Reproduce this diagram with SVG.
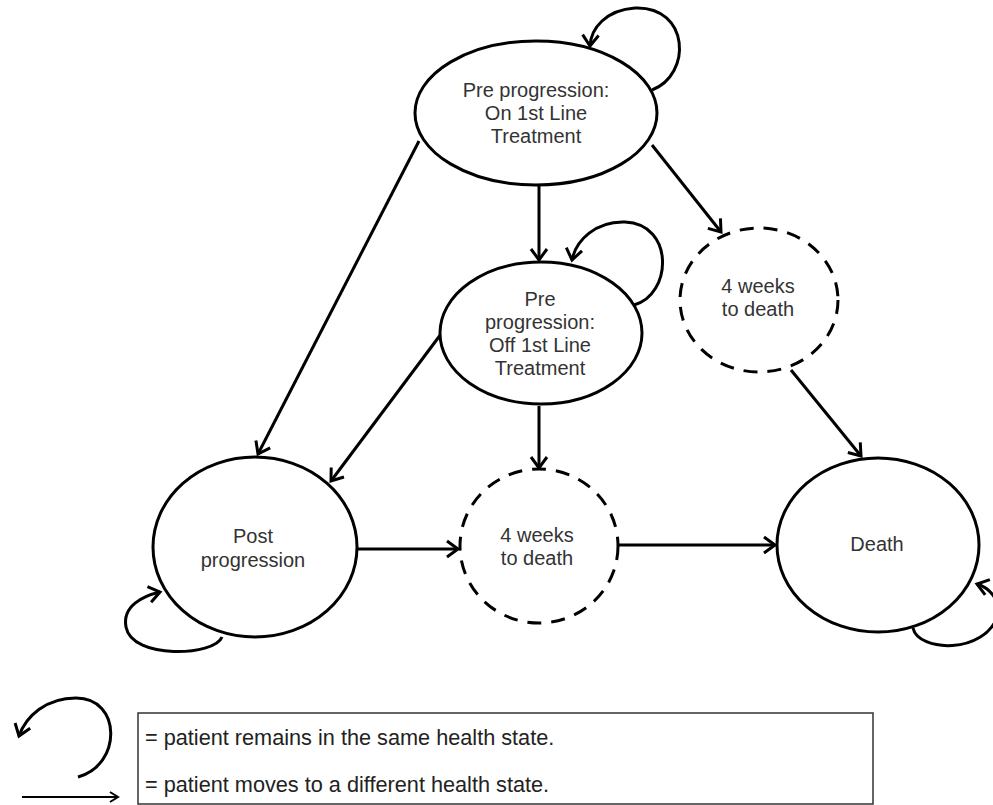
<svg xmlns="http://www.w3.org/2000/svg" width="993" height="805" viewBox="0 0 993 805">
<style>
.node{fill:#fff;stroke:#000;stroke-width:3}
.dash{fill:#fff;stroke:#000;stroke-width:3;stroke-dasharray:14 10}
.lbl{font-family:"Liberation Sans",Arial,sans-serif;font-size:20px;fill:#333;text-anchor:middle}
.leg{font-family:"Liberation Sans",Arial,sans-serif;font-size:21.7px;fill:#222}
.edge{fill:none;stroke:#000;stroke-width:3;marker-end:url(#ah)}
</style>
<defs>
<marker id="ah" markerUnits="userSpaceOnUse" markerWidth="24" markerHeight="24" viewBox="-14 -12 16 24" refX="0" refY="0" orient="auto">
<path d="M-11,-8 L0,0 L-11,8" fill="none" stroke="#000" stroke-width="3"/>
</marker>
<marker id="ah2" markerUnits="userSpaceOnUse" markerWidth="16" markerHeight="16" viewBox="-10 -8 12 16" refX="0" refY="0" orient="auto">
<path d="M-8,-5 L0,0 L-8,5" fill="none" stroke="#000" stroke-width="2"/>
</marker>
</defs>
<rect width="993" height="805" fill="#fff"/>
<g id="connectors">
<path class="edge" d="M652,90 C692,75 690,6 635,8 C606,10 591,28 590,46"/>
<path class="edge" d="M634,305 C672,295 675,224 625,222 C596,221 576,240 572,260"/>
<path class="edge" d="M539,186 L539,260"/>
<path class="edge" d="M652,145 L721,232"/>
<path class="edge" d="M419,141 L258,454"/>
<path class="edge" d="M444,330 L331,481"/>
<path class="edge" d="M539,406 L539,468"/>
<path class="edge" d="M791,370 L861,456"/>
<path class="edge" d="M358,549 L458,549"/>
<path class="edge" d="M619,545 L775,545"/>
<path class="edge" d="M222,637 C215,656 132,660 126,627 C122,606 143,596 160,592"/>
<path class="edge" d="M913,628 C918,652 985,655 998,615 C1000,600 990,588 977,584"/>
</g>
<g id="pre-on"><ellipse class="node" cx="536" cy="113" rx="121" ry="72"/>
<text class="lbl" x="536" y="97">Pre progression:</text><text class="lbl" x="536" y="120">On 1st Line</text><text class="lbl" x="536" y="143">Treatment</text></g>
<g id="pre-off"><ellipse class="node" cx="541" cy="333" rx="101" ry="71"/>
<text class="lbl" x="540" y="306">Pre</text><text class="lbl" x="540" y="329">progression:</text><text class="lbl" x="540" y="352">Off 1st Line</text><text class="lbl" x="540" y="375">Treatment</text></g>
<g id="weeks-top"><ellipse class="dash" cx="759" cy="300" rx="79" ry="72"/>
<text class="lbl" x="758" y="293">4 weeks</text><text class="lbl" x="758" y="316">to death</text></g>
<g id="post"><ellipse class="node" cx="255" cy="547" rx="102" ry="90"/>
<text class="lbl" x="253" y="543">Post</text><text class="lbl" x="253" y="567">progression</text></g>
<g id="weeks-bottom"><ellipse class="dash" cx="539" cy="546" rx="79" ry="77"/>
<text class="lbl" x="537" y="542">4 weeks</text><text class="lbl" x="537" y="565">to death</text></g>
<g id="death"><ellipse class="node" cx="878" cy="545" rx="101" ry="87"/>
<text class="lbl" x="877" y="551">Death</text></g>
<g id="legend">
<path class="edge" d="M78,777 C122,765 122,698 76,698 C46,698 26,716 19,736"/>
<line x1="22" y1="797" x2="118" y2="797" stroke="#000" stroke-width="2" marker-end="url(#ah2)"/>
<rect x="138" y="713" width="735" height="91" fill="#fff" stroke="#333" stroke-width="1.5"/>
<text class="leg" x="145" y="745">= patient remains in the same health state.</text>
<text class="leg" x="145" y="792">= patient moves to a different health state.</text>
</g>
</svg>
